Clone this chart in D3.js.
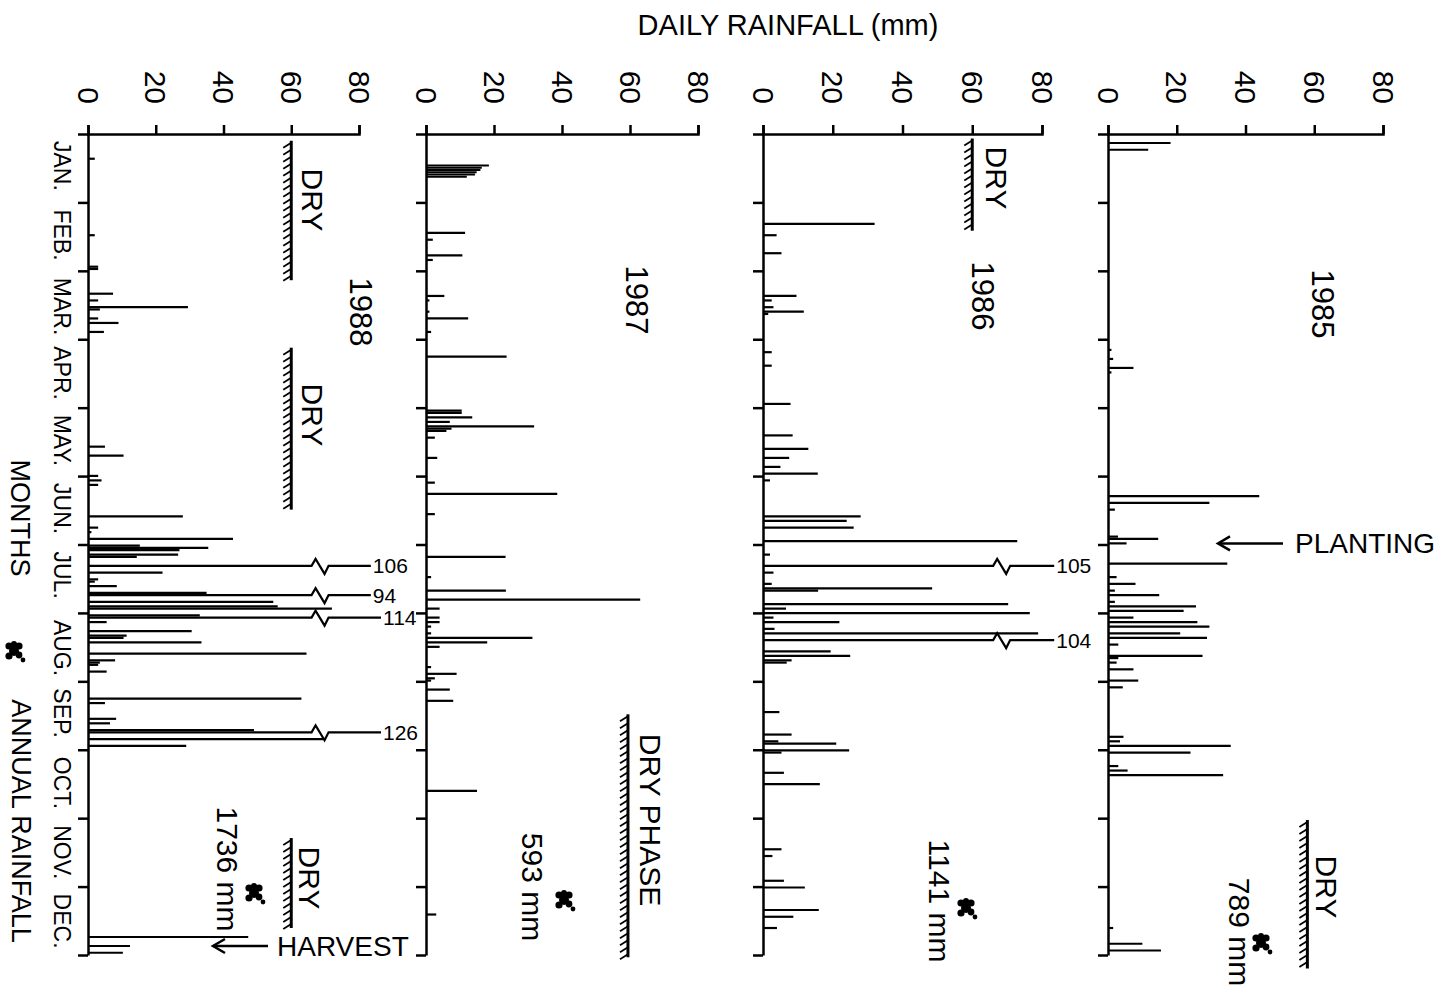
<!DOCTYPE html>
<html><head><meta charset="utf-8">
<script src="https://cdn.jsdelivr.net/npm/d3@7/dist/d3.min.js"></script>
<style>
body{margin:0;background:#fff}
text{font-family:"Liberation Sans",Arial,Helvetica,sans-serif;fill:#000}
</style></head>
<body><svg id="c" width="1449" height="990"></svg>
<script>
// ---------- DATA ----------
const months = ["JAN.","FEB.","MAR.","APR.","MAY.","JUN.","JUL.","AUG.","SEP.","OCT.","NOV.","DEC."];
const rainTicks = [0,20,40,60,80];
const years = ["1988","1987","1986","1985"];
const annualTotals = ["1736 mm","593 mm","1141 mm","789 mm"];

// [day of year, daily rainfall mm]
const rain1988 = [[11,2],[45,2],[59,3],[60,3],[71,7.4],[74,3],[77,29.5],[78,3.5],[82,3],[84,9],[88,4.7],
 [139,5],[143,10.5],[152,3],[154,4],[156,3],[170,28],[175,3],[177,1],[180,42.8],[183,15.3],[184,35.5],
 [185,27],[187,26.6],[188,14.4],[195,22],[198,3],[199,2],[201,8.5],[204,35],[208,54.7],[210,56],[211,72],
 [214,33],[217,5.5],[221,30.6],[223,11.4],[224,10.5],[226,33.5],[231,64.5],[234,8],[235,3.5],[236,3],
 [239,5.5],[251,63],[253,5],[260,8.3],[262,6.5],[265,49],[269,69.5],[272,29],[357,47.3],[361,12.4],[364,10.3]];
const breaks1988 = [[192,106],[205,94],[215,114],[266,126]];

const rain1987 = [[14,18.5],[15,16.4],[16,16],[17,14.9],[18,14.4],[19,12],[44,11.5],[47,2],[54,10.7],[56,2],
 [72,5.4],[74,1],[79,1],[82,12.4],[88,1.5],[99,23.7],[123,10.5],[124,10.5],[126,13.6],[128,7],[130,31.8],
 [131,7.5],[132,6],[135,2.6],[144,3.3],[155,2.6],[160,38.6],[169,2.6],[188,23.4],[197,1.5],[203,23.5],
 [207,63],[211,4],[215,4],[217,4],[219,1.5],[222,1.5],[224,31.3],[226,18],[228,4],[237,1.5],[240,9],
 [242,2.6],[243,1.5],[247,7],[252,8],[292,15],[347,3]];
const breaks1987 = [];

const rain1986 = [[40,32],[45,3.9],[53,5.3],[72,9.6],[74,2.5],[77,3],[79,11.7],[80,1.5],[97,2.5],[103,2.5],
 [120,7.9],[134,8.5],[140,13],[144,7.5],[148,5],[151,15.7],[154,2],[170,28],[172,24],[175,26],[181,72.9],
 [187,2],[195,3],[200,2.5],[202,48.5],[203,15.8],[209,70.3],[211,6.6],[213,76.5],[215,3],[217,21.9],
 [220,3.3],[222,78.9],[230,19.4],[232,25],[234,8.2],[235,6.8],[257,4.7],[267,8.2],[270,4.4],[271,21],
 [274,24.7],[275,5.3],[284,6],[289,16.3],[318,5.3],[321,2.7],[332,6],[335,12],[345,16],[348,8.7],[353,4]];
const breaks1986 = [[192,105],[225,104]];

const rain1985 = [[4,18.2],[7,11.7],[96,1],[100,1.5],[104,7.4],[106,1],[161,44],[164,29.5],[167,2],[179,2.9],
 [180,14.6],[182,5.4],[191,34.7],[197,2.5],[200,8],[203,2],[205,14.9],[208,2],[210,25.6],[212,22],[215,7.4],
 [217,26],[219,29.5],[222,21],[224,28.8],[227,3],[232,27.5],[233,3],[235,2.5],[238,7.4],[243,8.8],[246,4.3],
 [268,4.5],[270,3.5],[272,35.7],[275,24],[281,3],[283,5.7],[285,33.5],[353,1.5],[360,10],[363,15.4]];
const breaks1985 = [];

// dry periods [start doy, end doy]
const dry1988 = [[3,65],[95,167],[313,353]];
const dry1987 = [[258,366]];
const dry1986 = [[2,43]];
const dry1985 = [[305,371]];

// ---------- LAYOUT ----------
const svg = d3.select("#c");
const F = "Liberation Sans";
const yScale = d3.scaleLinear().domain([0,365]).range([134,955]);
const monthTicks = d3.range(13).map(i => i*365/12);

const panels = [
  {year:years[0], rain:rain1988, breaks:breaks1988, dry:dry1988, x0:88,  x1:359, dryMm:60,
   yearPos:[361,312], dryLabels:[[313,200,"DRY"],[313,415,"DRY"],[310,878,"DRY"]], total:annualTotals[0], totalPos:[228,869], splat:[254,893]},
  {year:years[1], rain:rain1987, breaks:breaks1987, dry:dry1987, x0:426, x1:698, dryMm:59.4,
   yearPos:[637,300], dryLabels:[[651,820,"DRY PHASE"]], total:annualTotals[1], totalPos:[533,887], splat:[564,900]},
  {year:years[2], rain:rain1986, breaks:breaks1986, dry:dry1986, x0:763, x1:1042, dryMm:60,
   yearPos:[983,296], dryLabels:[[997,178,"DRY"]], total:annualTotals[2], totalPos:[940,901], splat:[966,908]},
  {year:years[3], rain:rain1985, breaks:breaks1985, dry:dry1985, x0:1108, x1:1383, dryMm:58,
   yearPos:[1323,304], dryLabels:[[1327,887,"DRY"]], total:annualTotals[3], totalPos:[1240,932], splat:[1261,943]}
];

function rtext(g, x, y, str, size, anchor) {
  return g.append("text")
    .attr("transform", `translate(${x},${y}) rotate(90)`)
    .attr("text-anchor", anchor || "middle")
    .attr("dy", "0.36em")
    .attr("font-size", size)
    .text(str);
}
function splat(g, cx, cy) {
  const s = g.append("g").attr("transform", `translate(${cx},${cy})`).attr("fill","#000");
  [[0,0,5],[-5,-5,3.6],[5,-5,3.6],[-5,5,3.6],[5,4,3.4],[0,-7,3]].forEach(c =>
    s.append("circle").attr("cx",c[0]).attr("cy",c[1]).attr("r",c[2]));
  s.append("circle").attr("cx",9).attr("cy",9).attr("r",2.4);
}
function arrowLeft(g, xFrom, xTo, y) {
  g.append("line").attr("x1",xFrom).attr("x2",xTo).attr("y1",y).attr("y2",y)
    .attr("stroke","#000").attr("stroke-width",2.5);
  g.append("path").attr("d",`M${xTo+12},${y-7} L${xTo},${y} L${xTo+12},${y+7}`)
    .attr("fill","none").attr("stroke","#000").attr("stroke-width",2.5);
}

// title
svg.append("text").attr("x",788).attr("y",35).attr("text-anchor","middle")
  .attr("font-size",29).text("DAILY RAINFALL (mm)");

panels.forEach(p => {
  const x = d3.scaleLinear().domain([0,80]).range([p.x0,p.x1]);
  const g = svg.append("g");

  // rainfall axis (top)
  const ax = g.append("g").attr("transform",`translate(0,${yScale(0)})`)
    .call(d3.axisTop(x).tickValues(rainTicks).tickSize(9).tickSizeOuter(9).tickFormat(d3.format("d")));
  ax.select(".domain").attr("stroke-width",2.5);
  ax.selectAll(".tick line").attr("stroke-width",2.5);
  ax.selectAll(".tick text")
    .attr("transform","rotate(90)")
    .attr("x",-30).attr("y",0).attr("dy","0.36em")
    .attr("text-anchor","end")
    .attr("font-family",F).attr("font-size",30).attr("fill","#000");

  // time axis (vertical)
  const tx = g.append("g").attr("transform",`translate(${x(0)},0)`)
    .call(d3.axisLeft(yScale).tickValues(monthTicks).tickSize(10).tickSizeOuter(0).tickFormat(""));
  tx.select(".domain").attr("stroke-width",2.5);
  tx.selectAll(".tick line").attr("stroke-width",2.5);

  // bars
  g.selectAll("line.bar").data(p.rain).join("line").attr("class","bar")
    .attr("x1",x(0)).attr("x2",d => x(d[1]))
    .attr("y1",d => yScale(d[0])).attr("y2",d => yScale(d[0]))
    .attr("stroke","#000").attr("stroke-width",2.2);

  // broken bars
  p.breaks.forEach(d => {
    const y = yScale(d[0]);
    const xb = x(66);
    const xl = x(d[1] >= 110 ? 86.5 : 83.5);
    g.append("path")
      .attr("d",`M${x(0)},${y} H${xb} l4,-7 l9,15 l4,-8 H${xl}`)
      .attr("fill","none").attr("stroke","#000").attr("stroke-width",2.2);
    g.append("text").attr("x",xl+2).attr("y",y).attr("dy","0.36em")
      .attr("font-size",21).text(d[1]);
  });

  // dry periods (hatched)
  p.dry.forEach(d => {
    const xl = x(p.dryMm), ya = yScale(d[0]), yb = yScale(d[1]);
    g.append("line").attr("x1",xl).attr("x2",xl).attr("y1",ya).attr("y2",yb)
      .attr("stroke","#000").attr("stroke-width",3);
    for (let t = ya + 2; t <= yb; t += 7) {
      g.append("line").attr("x1",xl).attr("y1",t).attr("x2",xl-8).attr("y2",t+5)
        .attr("stroke","#000").attr("stroke-width",1.8);
    }
  });
  p.dryLabels.forEach(l => rtext(g, l[0], l[1], l[2], 30));

  rtext(g, p.yearPos[0], p.yearPos[1], p.year, 31);
  rtext(g, p.totalPos[0], p.totalPos[1], p.total, 30);
  splat(g, p.splat[0], p.splat[1]);
});

// month labels
months.forEach((m,i) => rtext(svg, 62, yScale(monthTicks[i]) + 7, m, 23, "start"));
rtext(svg, 21, 518, "MONTHS", 27);
splat(svg, 14, 651);
rtext(svg, 22, 821, "ANNUAL RAINFALL", 27);

// events
svg.append("text").attr("x",277).attr("y",yScale(361)).attr("dy","0.36em").attr("font-size",28).text("HARVEST");
arrowLeft(svg, 268, 213, yScale(361));
svg.append("text").attr("x",1295).attr("y",yScale(182)).attr("dy","0.36em").attr("font-size",28).text("PLANTING");
arrowLeft(svg, 1283, 1218, yScale(182));
</script>
</body></html>
